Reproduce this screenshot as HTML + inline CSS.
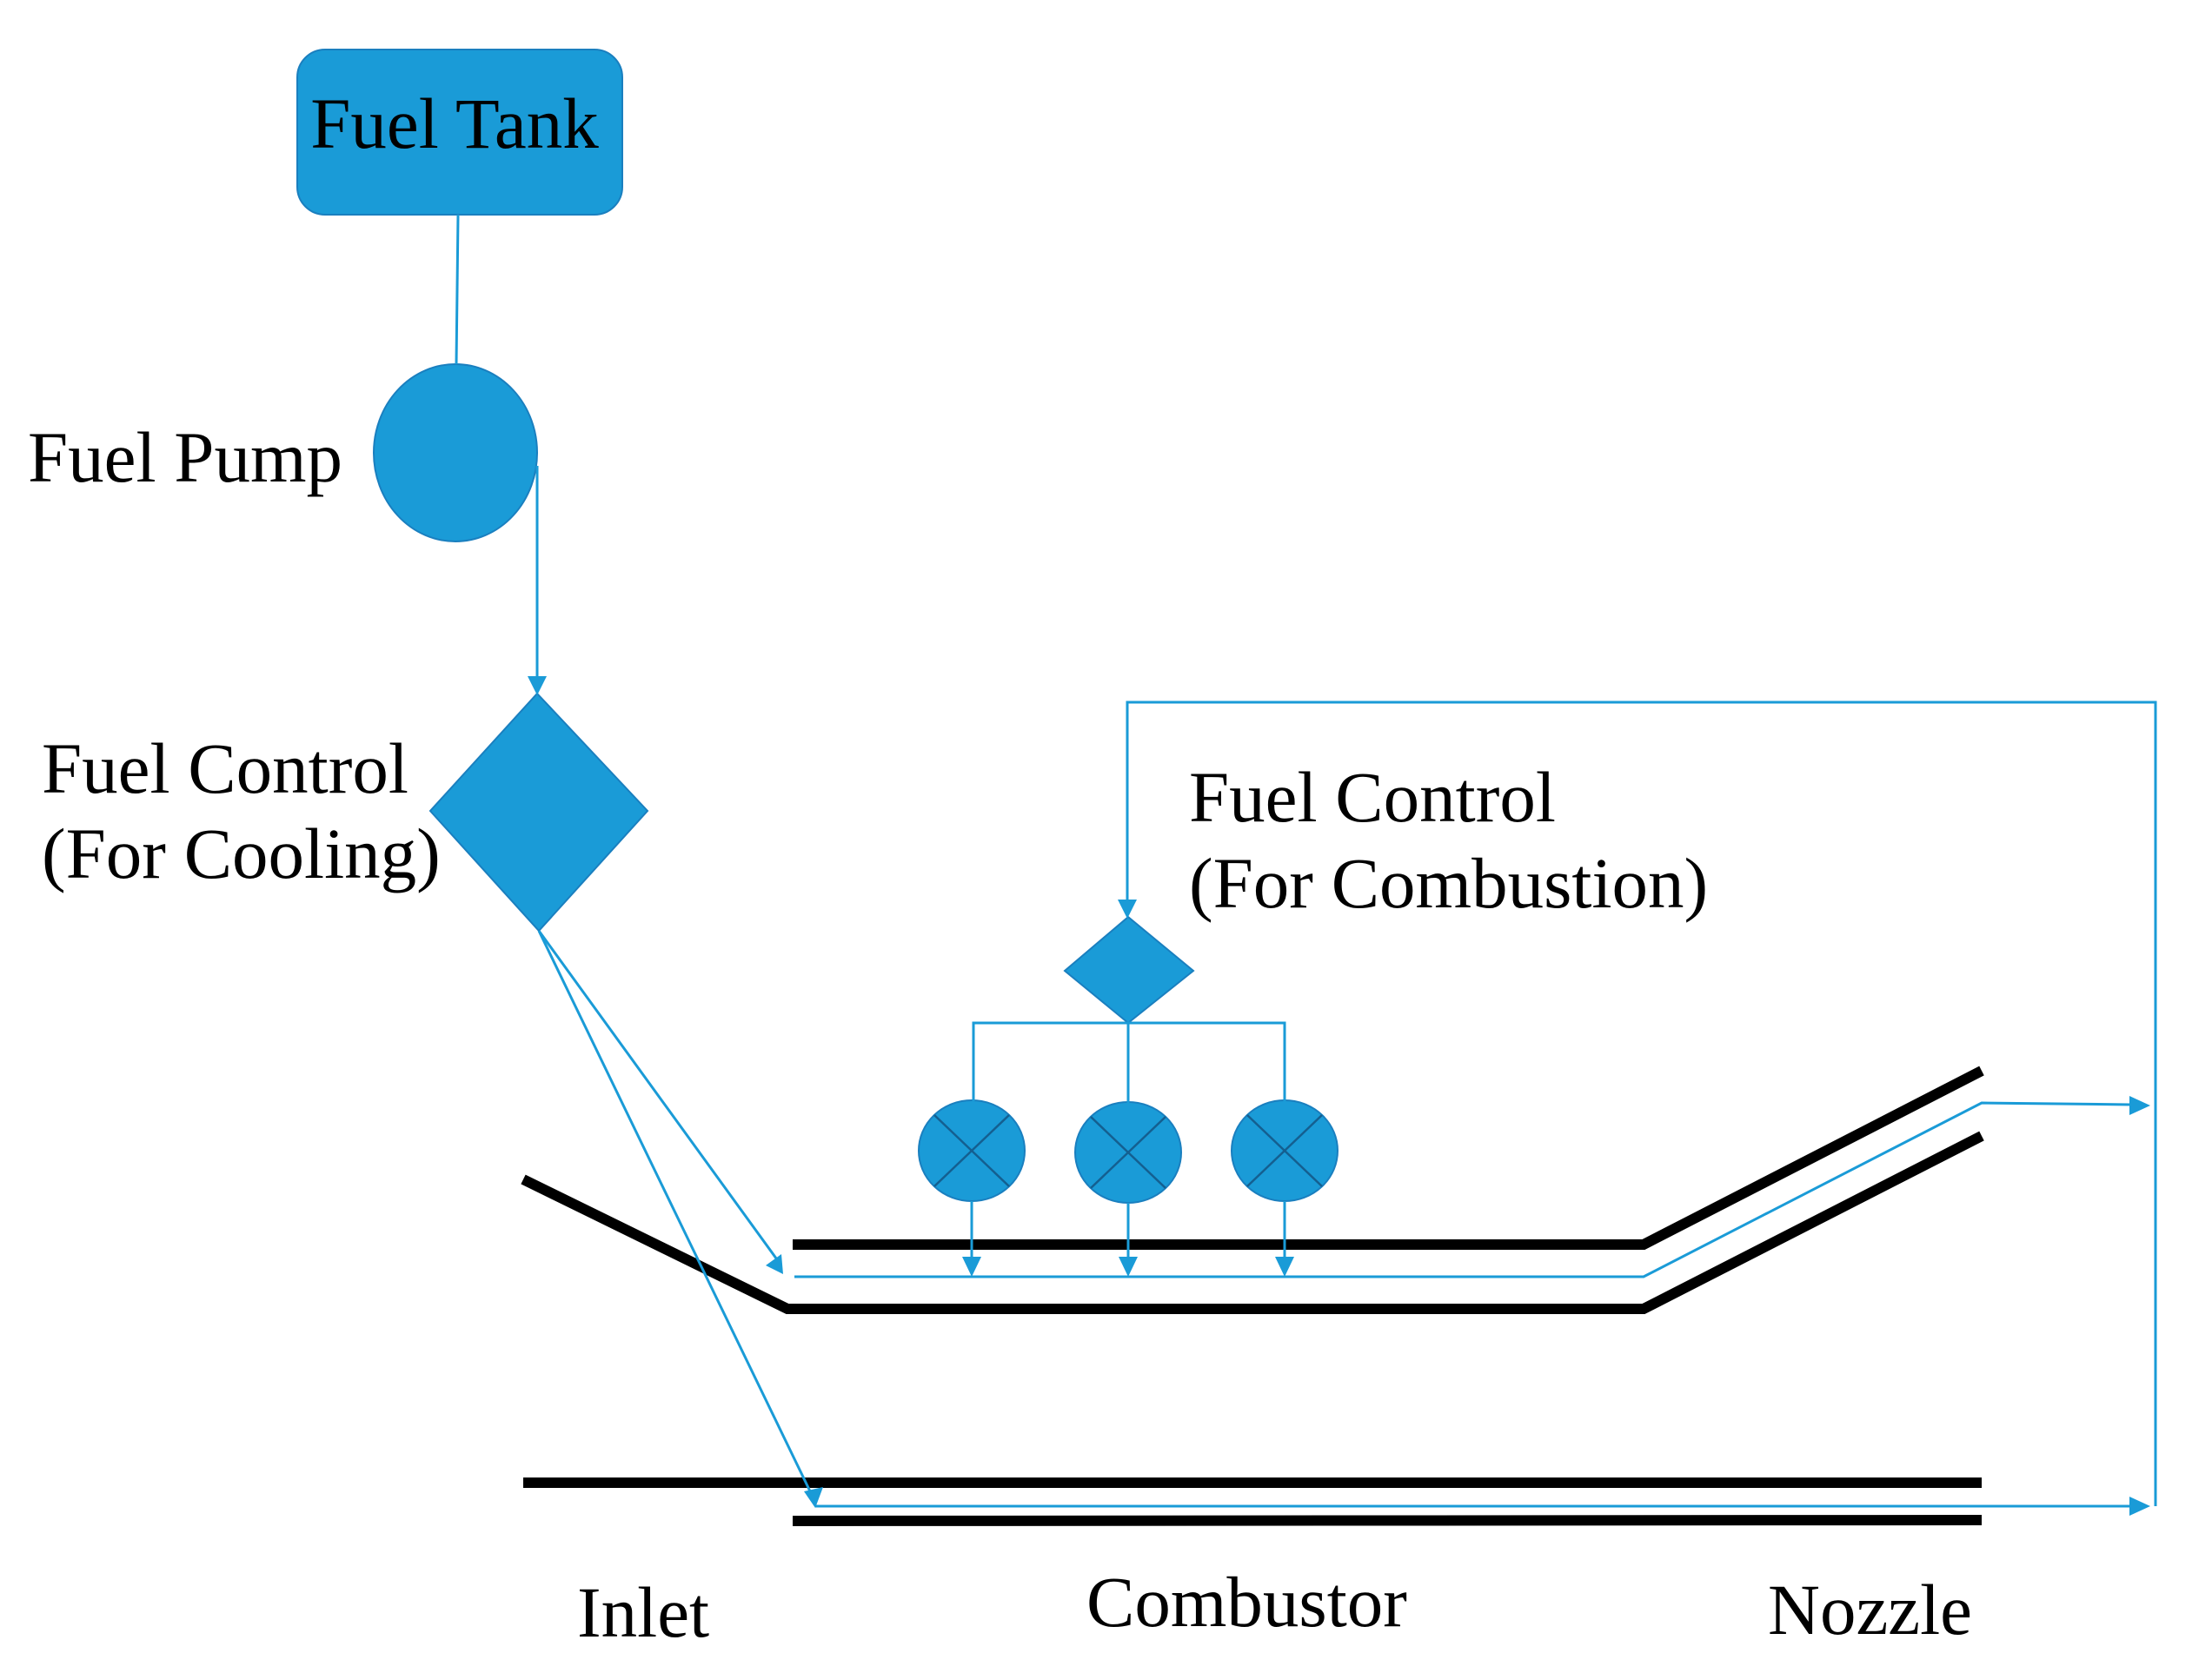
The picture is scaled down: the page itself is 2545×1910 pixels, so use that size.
<!DOCTYPE html>
<html><head><meta charset="utf-8"><style>
html,body{margin:0;padding:0;background:#fff;}
svg{display:block;}
text{font-family:"Liberation Serif",serif;font-size:83px;fill:#000;}
</style></head><body>
<svg width="2545" height="1910" viewBox="0 0 2545 1910" xmlns="http://www.w3.org/2000/svg">
<g fill="#1a9bd7" stroke="#1a7fbf" stroke-width="2">
<rect x="342" y="57" width="374" height="190" rx="32"/>
<ellipse cx="524" cy="521" rx="94" ry="102"/>
<polygon points="618,798 745,933 620,1071 495,933"/>
<polygon points="1298,1055 1373,1117 1298,1177 1225,1117"/>
<ellipse cx="1118" cy="1324" rx="61" ry="58"/>
<ellipse cx="1298" cy="1326" rx="61" ry="58"/>
<ellipse cx="1478" cy="1324" rx="61" ry="58"/>
</g>
<g stroke="#145f90" stroke-width="2.5">
<line x1="1075" y1="1283" x2="1161" y2="1365"/><line x1="1161" y1="1283" x2="1075" y2="1365"/>
<line x1="1255" y1="1285" x2="1341" y2="1367"/><line x1="1341" y1="1285" x2="1255" y2="1367"/>
<line x1="1435" y1="1283" x2="1521" y2="1365"/><line x1="1521" y1="1283" x2="1435" y2="1365"/>
</g>
<g stroke="#000" stroke-width="12" fill="none">
<polyline points="912,1432 1891,1432 2280,1232"/>
<polyline points="602,1357 906,1506 1891,1506 2280,1307"/>
<line x1="602" y1="1706" x2="2280" y2="1706"/>
<line x1="912" y1="1750" x2="2280" y2="1749"/>
</g>
<g stroke="#1a9bd7" stroke-width="3" fill="none">
<line x1="527" y1="247" x2="525" y2="419"/>
<polyline points="618,536 618,782"/>
<line x1="620" y1="1071" x2="896" y2="1452"/>
<line x1="620" y1="1071" x2="934" y2="1720"/>
<polyline points="914,1469 1891,1469 2280,1269 2452,1271"/>
<polyline points="938,1733 2452,1733"/>
<polyline points="1297,1040 1297,808 2480,808 2480,1733"/>
<polyline points="1120,1267 1120,1177 1478,1177 1478,1267"/>
<line x1="1298" y1="1177" x2="1298" y2="1269"/>
<line x1="1118" y1="1382" x2="1118" y2="1452"/>
<line x1="1298" y1="1384" x2="1298" y2="1452"/>
<line x1="1478" y1="1382" x2="1478" y2="1452"/>
</g>
<g fill="#1a9bd7">
<polygon points="607,778 629,778 618,800"/>
<polygon points="1286,1035 1308,1035 1297,1057"/>
<polygon points="1107,1446 1129,1446 1118,1469"/>
<polygon points="1287,1446 1309,1446 1298,1469"/>
<polygon points="1467,1446 1489,1446 1478,1469"/>
<polygon points="901,1466 881,1456 899,1443"/>
<polygon points="938,1735 925,1716 947,1711"/>
<polygon points="2474,1272 2450,1261 2450,1283"/>
<polygon points="2474,1733 2450,1722 2450,1744"/>
</g>
<text x="523" y="170" text-anchor="middle">Fuel Tank</text>
<text x="32" y="554">Fuel Pump</text>
<text x="48" y="912">Fuel Control</text>
<text x="48" y="1010">(For Cooling)</text>
<text x="1368" y="945">Fuel Control</text>
<text x="1368" y="1044">(For Combustion)</text>
<text x="664" y="1883">Inlet</text>
<text x="1250" y="1871">Combustor</text>
<text x="2034" y="1880">Nozzle</text>
</svg>
</body></html>
